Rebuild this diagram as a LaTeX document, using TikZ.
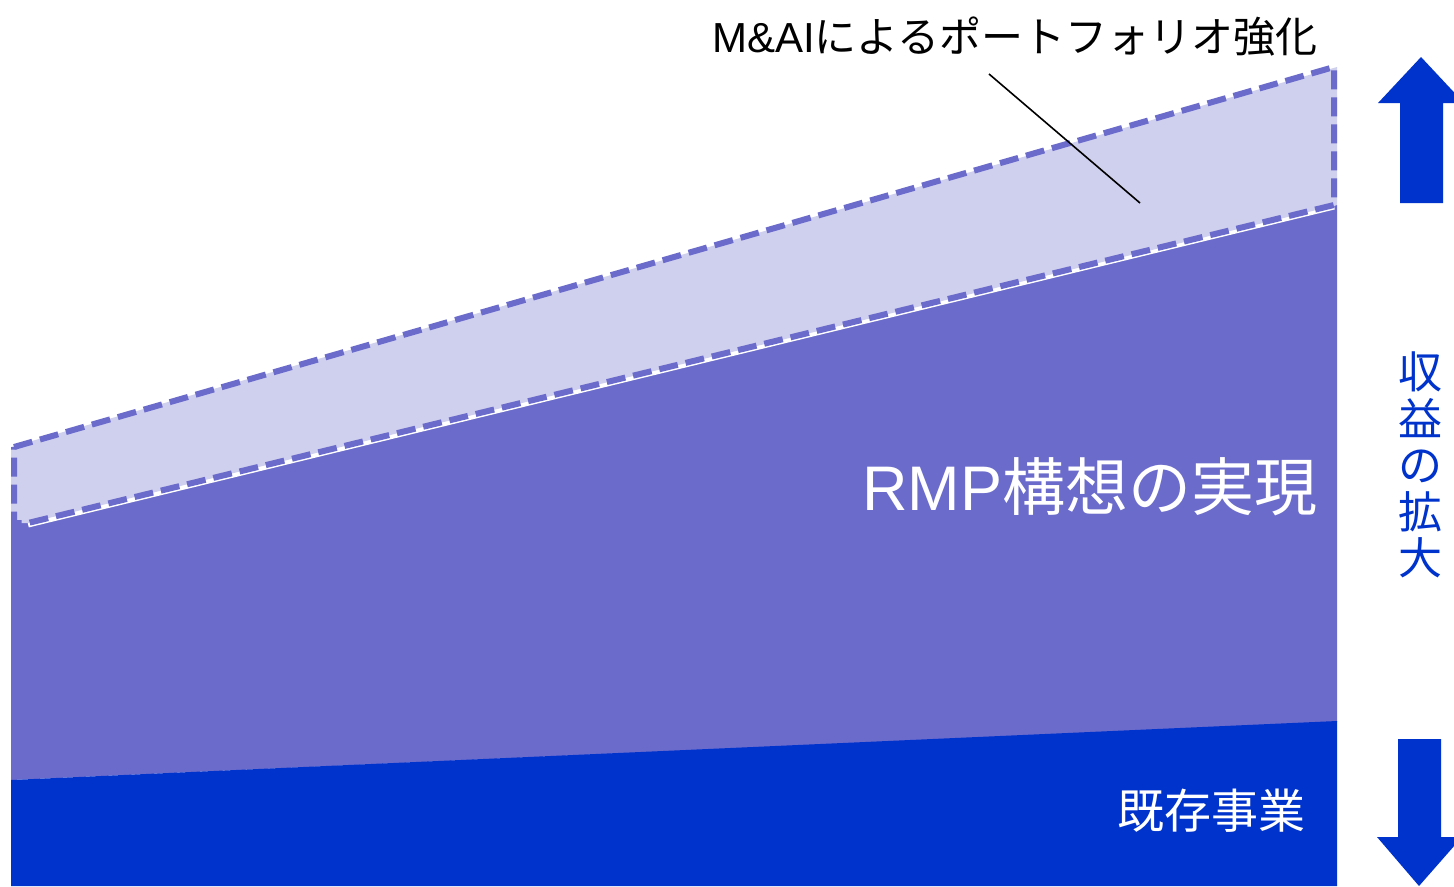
\documentclass[tikz,border=0pt]{standalone}
\usepackage{fontspec}
\setmainfont{Liberation Sans}
\newfontfamily\cjk{Noto Sans CJK JP}
\definecolor{darkblue}{RGB}{0,51,204}
\definecolor{midpurple}{RGB}{107,107,204}
\definecolor{lightlav}{RGB}{207,207,238}
\begin{document}
\begin{tikzpicture}[x=1bp,y=-1bp,
  dashborder/.style={draw=midpurple,line width=6bp,dash pattern=on 19bp off 8bp},
  whitetext/.style={text=white,inner sep=0pt},
  bluearrow/.style={fill=darkblue,draw=none}]
\useasboundingbox (0,0) rectangle (1454,886);
\clip (0,0) rectangle (1454,886);
% medium region
\fill[midpurple] (11,523) -- (1337,205) -- (1337,722) -- (11,780) -- cycle;
% white underlay line along medium top
\draw[white,line width=7bp] (28,524) -- (1334,206);
% dark blue region
\fill[darkblue] (11,780) -- (1337,721) -- (1337,886) -- (11,886) -- cycle;
% light region
\fill[lightlav] (11,447) -- (1337,67) -- (1337,205) -- (28,523) -- (11,523) -- cycle;
\draw[dashborder] (14,447) -- (1334,67) -- (1334,205) -- (28,523) -- (14,523) -- cycle;
% labels
\node[inner sep=0pt] (title) at (1015,37) {\fontsize{42bp}{50bp}\selectfont M\&AI{\cjk によるポートフォリオ強化}};
\coordinate (cs) at (989,74);
\coordinate (ce) at (1140,203);
\draw[black,line width=1.6bp] (cs) -- (ce);
\node[whitetext] (rmp) at (1090,487) {\fontsize{63bp}{71bp}\selectfont RMP{\cjk 構想の実現}};
\node[whitetext] (kizon) at (1211,811) {\fontsize{47bp}{56bp}\selectfont\cjk 既存事業};
% arrows
\fill[bluearrow] (1421,57) -- (1464,103) -- (1443,103) -- (1443,203) -- (1400,203) -- (1400,103) -- (1378,103) -- cycle;
\fill[bluearrow] (1398,739) -- (1441,739) -- (1441,837) -- (1462,837) -- (1419,886) -- (1377,837) -- (1398,837) -- cycle;
\node[text=darkblue,inner sep=0pt,align=center,font={\fontsize{44bp}{46.5bp}\selectfont\cjk}] (shueki) at (1420,465) {収\\益\\の\\拡\\大};
\end{tikzpicture}
\end{document}
